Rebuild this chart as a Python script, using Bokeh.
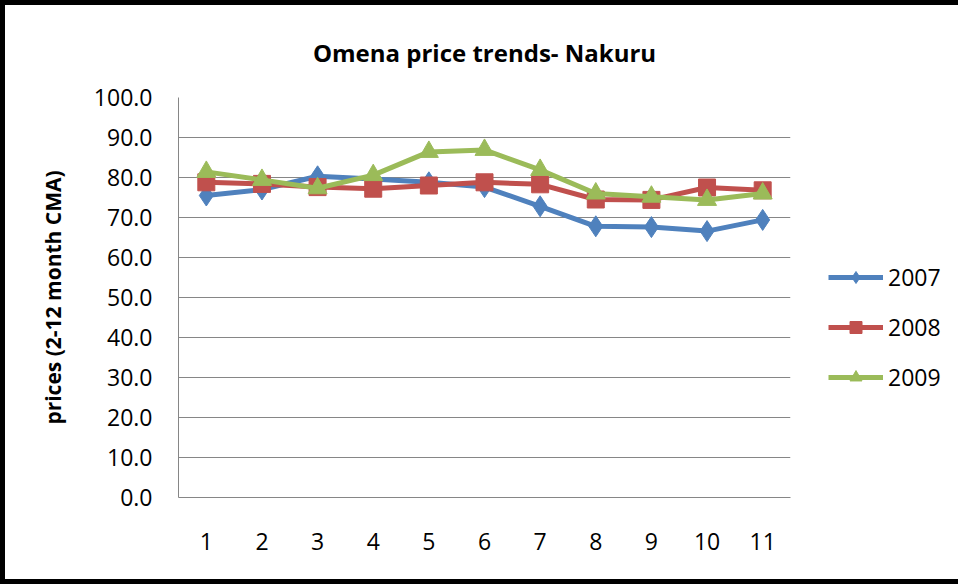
from bokeh.plotting import figure
from bokeh.models import Legend, LegendItem, FixedTicker, Range1d, PrintfTickFormatter
from bokeh.embed import file_html
from bokeh.resources import INLINE

months = [1, 2, 3, 4, 5, 6, 7, 8, 9, 10, 11]
month_labels = [str(m) for m in months]
y_ticks = [0, 10, 20, 30, 40, 50, 60, 70, 80, 90, 100]
p2007 = [75.5, 77.0, 80.3, 79.6, 78.8, 77.6, 72.8, 67.8, 67.6, 66.6, 69.4]
p2008 = [78.8, 78.4, 77.6, 77.2, 78.0, 78.8, 78.3, 74.5, 74.4, 77.5, 76.8]
p2009 = [81.4, 79.4, 77.3, 80.6, 86.4, 86.9, 81.9, 76.0, 75.2, 74.4, 76.0]
series_names = ["2007", "2008", "2009"]

FONT = "Open Sans"
BLUE, RED, GREEN = "#4F81BD", "#C0504D", "#9BBB59"
GRID = "#868686"

B = 5  # outer border thickness (CSS)
p = figure(frame_width=612, frame_height=400, output_backend="svg", toolbar_location=None,
           x_range=Range1d(0.5, 11.5), y_range=Range1d(0, 100),
           min_border_left=178 - B, min_border_right=163, min_border_top=92,
           min_border_bottom=82)
p.outline_line_color = None
p.background_fill_color = "white"
p.border_fill_color = "white"
p.styles = {"border": f"{B}px solid black"}

p.title.text = "Omena price trends- Nakuru"
p.title.align = "center"
p.title.text_font = FONT
p.title.text_font_size = "24px"
p.title.text_font_style = "bold"
p.title.text_color = "black"
p.title.standoff = 57

p.xgrid.grid_line_color = None
p.ygrid.grid_line_color = GRID
p.ygrid.grid_line_width = 1
p.ygrid.ticker = FixedTicker(ticks=y_ticks)

p.yaxis.ticker = FixedTicker(ticks=y_ticks)
p.yaxis.formatter = PrintfTickFormatter(format="%.1f")
p.xaxis.ticker = FixedTicker(ticks=months)
p.xaxis.major_label_overrides = {m: l for m, l in zip(months, month_labels)}

for ax in (p.xaxis, p.yaxis):
    ax.axis_line_color = GRID
    ax.axis_line_width = 1
    ax.major_tick_line_color = None
    ax.minor_tick_line_color = None
    ax.major_label_text_font = FONT
    ax.major_label_text_font_size = "23px"
    ax.major_label_text_color = "black"

p.xaxis.major_label_standoff = 29
p.yaxis.major_label_standoff = 20
p.yaxis.axis_label = "prices (2-12 month CMA)"
p.yaxis.axis_label_text_font = FONT
p.yaxis.axis_label_text_font_size = "21px"
p.yaxis.axis_label_text_font_style = "bold"
p.yaxis.axis_label_text_color = "black"
p.yaxis.axis_label_standoff = 24

items = []
for name, vals, col in zip(series_names, [p2007, p2008, p2009], [BLUE, RED, GREEN]):
    lr = p.line(months, vals, line_color=col, line_width=5)
    if name == "2007":
        mr = p.scatter(months, vals, marker="diamond", size=21, fill_color=col, line_color=col)
    elif name == "2008":
        mr = p.scatter(months, vals, marker="square", size=17, fill_color=col, line_color=col)
    else:
        mr = p.scatter(months, vals, marker="triangle", size=19, fill_color=col, line_color=col)
    items.append(LegendItem(label=name, renderers=[lr, mr]))

legend = Legend(items=items, location=(38, 104), orientation="vertical",
                label_text_font=FONT, label_text_font_size="23px", label_text_color="black",
                glyph_width=55, glyph_height=30, label_height=30, spacing=18,
                label_standoff=5, border_line_color=None, background_fill_alpha=0,
                padding=0, margin=0)
p.add_layout(legend, "right")

open("out.html", "w").write(file_html(p, INLINE))
